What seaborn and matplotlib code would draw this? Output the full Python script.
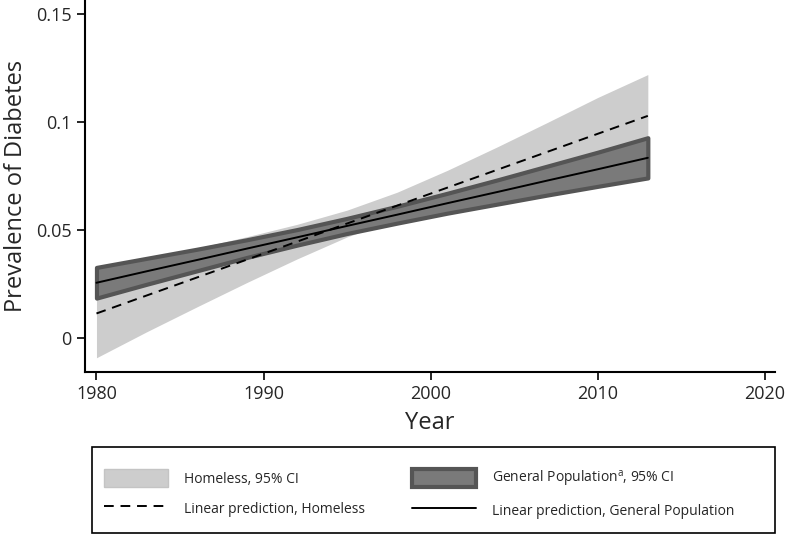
import pandas as pd
import seaborn as sns
import matplotlib.pyplot as plt
from matplotlib.patches import Patch, Rectangle
from matplotlib.lines import Line2D

years = [1980, 1983, 1986, 1989, 1992, 1995, 1998, 2001, 2004, 2007, 2010, 2013]

homeless_fit = [0.0115, 0.0198, 0.0281, 0.0364, 0.0447, 0.0531,
                0.0614, 0.0697, 0.0780, 0.0863, 0.0946, 0.1029]
homeless_lo = [-0.0090, 0.0030, 0.0145, 0.0258, 0.0367, 0.0469,
               0.0552, 0.0617, 0.0674, 0.0727, 0.0778, 0.0838]
homeless_hi = [0.0320, 0.0366, 0.0417, 0.0470, 0.0527, 0.0593,
               0.0676, 0.0777, 0.0886, 0.0999, 0.1114, 0.1220]

general_fit = [0.0257, 0.0310, 0.0362, 0.0415, 0.0467, 0.0520,
               0.0572, 0.0625, 0.0677, 0.0730, 0.0782, 0.0835]
general_lo = [0.0186, 0.0250, 0.0312, 0.0374, 0.0431, 0.0485,
              0.0533, 0.0579, 0.0621, 0.0663, 0.0703, 0.0742]
general_hi = [0.0328, 0.0370, 0.0412, 0.0456, 0.0503, 0.0555,
              0.0611, 0.0671, 0.0733, 0.0797, 0.0861, 0.0928]

x_ticks = [1980, 1990, 2000, 2010, 2020]
y_ticks = [0, 0.05, 0.1, 0.15]
y_tick_labels = ["0", "0.05", "0.1", "0.15"]

df = pd.DataFrame({"Year": years, "homeless": homeless_fit, "general": general_fit})

sns.set_theme(style="ticks")
plt.rcParams['font.family'] = ['Open Sans', 'DejaVu Sans']
plt.rcParams['mathtext.fontset'] = 'custom'
plt.rcParams['mathtext.rm'] = 'Open Sans'

light = "#cdcdcd"
dark_fill = "#7a7a7a"
dark_edge = "#555555"

fig = plt.figure(figsize=(7.85, 5.35), dpi=100)
ax = fig.add_axes([0.108, 0.305, 0.879, 0.695])

ax.fill_between(years, homeless_lo, homeless_hi, color=light, linewidth=0)
ax.fill_between(years, general_lo, general_hi, facecolor=dark_fill,
                edgecolor=dark_edge, linewidth=3)
sns.lineplot(data=df, x="Year", y="general", color="black", linewidth=1.4, ax=ax)
sns.lineplot(data=df, x="Year", y="homeless", color="black", linewidth=1.4,
             linestyle=(0, (5, 3.5)), ax=ax)

ax.set_xlim(1979.3, 2020.6)
ax.set_ylim(-0.0155, 0.1565)
ax.set_xticks(x_ticks)
ax.set_yticks(y_ticks)
ax.set_yticklabels(y_tick_labels)
ax.tick_params(axis="both", labelsize=13, length=6, width=1.2, color="black")
ax.set_xlabel("Year", fontsize=17, labelpad=6)
ax.set_ylabel("Prevalence of Diabetes", fontsize=17, labelpad=6)
for s in ["top", "right"]:
    ax.spines[s].set_visible(False)
for s in ["left", "bottom"]:
    ax.spines[s].set_linewidth(1.5)
    ax.spines[s].set_color("black")

# legend box (stata-like, wider than its contents)
fig.patches.append(Rectangle((0.1172, 0.0037), 0.870, 0.1607, transform=fig.transFigure,
                             facecolor="white", edgecolor="black", linewidth=1.2))

handles = [
    Patch(facecolor=light, edgecolor="#c4c4c4", linewidth=1),
    Line2D([], [], color="black", linewidth=1.4, linestyle=(0, (5, 3.5))),
    Patch(facecolor=dark_fill, edgecolor=dark_edge, linewidth=3),
    Line2D([], [], color="black", linewidth=1.4),
]
labels = [
    "Homeless, 95% CI",
    "Linear prediction, Homeless",
    r"General Population$^{\mathrm{a}}$, 95% CI",
    "Linear prediction, General Population",
]
leg = fig.legend(handles, labels, ncol=2, loc="upper left",
                 bbox_to_anchor=(0.1325, 0.124), borderaxespad=0, borderpad=0,
                 fontsize=10, frameon=False, handlelength=4.6, handleheight=1.7,
                 handletextpad=1.15, labelspacing=0.85, columnspacing=3.4)

plt.savefig("out.png", dpi=100)
